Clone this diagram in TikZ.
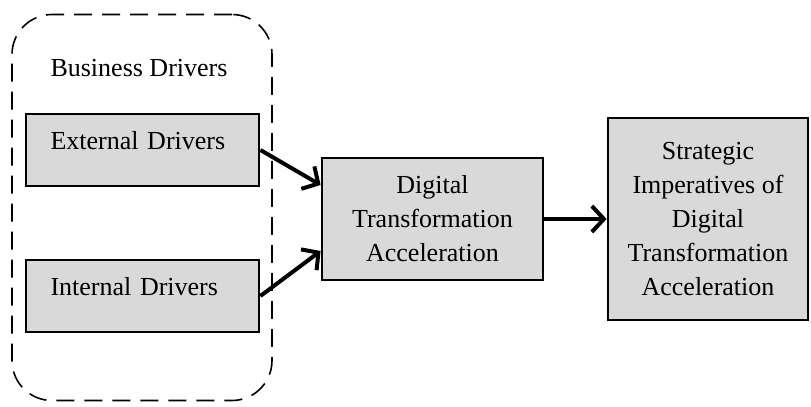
\documentclass[tikz,border=0pt]{standalone}
\usepackage{fontspec}
\setmainfont{Liberation Serif}
\definecolor{boxgray}{rgb}{0.85,0.85,0.85}
\usepackage{tikz}
\usetikzlibrary{arrows.meta,positioning}
\tikzset{
	drivergroup/.style={
		draw, dash pattern=on 9pt off 5pt, line width=0.8pt,
		rounded corners=20pt, minimum width=130pt, minimum height=193pt
	},
	driver/.style={
		draw, line width=1.4pt, fill=boxgray, rectangle,
		minimum width=116.5pt, minimum height=36pt,
		text width=92pt, align=left, inner xsep=12pt, text depth=10pt
	},
	stage/.style={
		draw, line width=1.4pt, fill=boxgray, rectangle,
		align=center, font=\fontsize{13pt}{17pt}\selectfont
	},
	flow/.style={-{Straight Barb[length=6pt,width=13pt]}, line width=2pt}
}

\begin{document}
\begin{tikzpicture}[x=0.5pt,y=-0.5pt,font=\fontsize{13pt}{17pt}\selectfont]
  \useasboundingbox (0,0) rectangle (811,407);
  \node[drivergroup] (grp) at (142,207.5) {};
  \node (title) at (139,68) {Business Drivers};
  \node[driver] (ext) at (142.5,150) {External Drivers};
  \node[driver] (int) at (142.5,296) {Internal Drivers};
  \node[stage,minimum width=110.5pt,minimum height=61pt] (dta) at (432.5,219)
    {Digital\\Transformation\\Acceleration};
  \node[stage,minimum width=100pt,minimum height=101pt] (sida) at (708,219)
    {Strategic\\Imperatives of\\Digital\\Transformation\\Acceleration};
  \draw[flow] (ext.east) -- ([yshift=17pt]dta.west);
  \draw[flow] (int.east) -- ([yshift=-16pt]dta.west);
  \draw[flow] (dta) -- (sida);
\end{tikzpicture}
\end{document}
